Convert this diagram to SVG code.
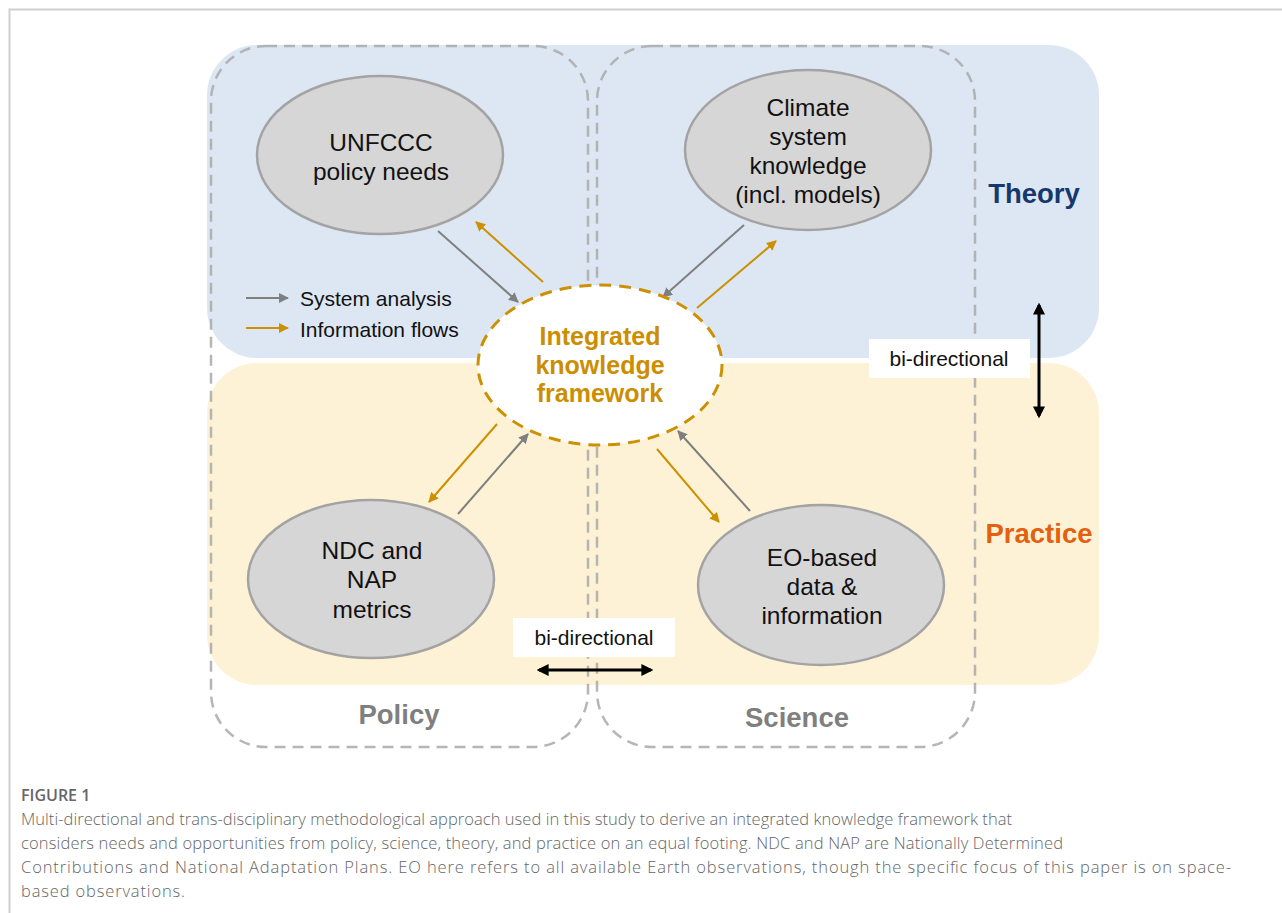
<svg xmlns="http://www.w3.org/2000/svg" width="1282" height="913" viewBox="0 0 1282 913">
<defs>
<style>
.frame{fill:none;stroke:#cfcfcf;stroke-width:2}
.band-t{fill:#dde7f4}
.band-p{fill:#fef2d6}
.dbox{fill:none;stroke:#a9a9a9;stroke-width:2.5;stroke-dasharray:11 7;stroke-opacity:0.85}
.node{fill:#d6d6d6;stroke:#a3a3a3;stroke-width:2.5}
.ntxt{font-family:"Liberation Sans",Arial,sans-serif;font-size:24.5px;fill:#111;text-anchor:middle}
.ikf{fill:#fff;stroke:#cc9000;stroke-width:3;stroke-dasharray:12 8}
.iktxt{font-family:"Liberation Sans",Arial,sans-serif;font-size:25px;font-weight:bold;fill:#cc8e00;text-anchor:middle}
.lbl{font-family:"Liberation Sans",Arial,sans-serif;font-size:27.5px;font-weight:bold;text-anchor:middle}
.small{font-family:"Liberation Sans",Arial,sans-serif;font-size:21px;fill:#111}
.gray{stroke:#7f7f7f;stroke-width:2;fill:none}
.orng{stroke:#cc9000;stroke-width:2;fill:none}
.blk{stroke:#000;stroke-width:3;fill:none}
.cap{font-family:"Open Sans",sans-serif;font-size:16.5px;fill:#666;font-weight:300}
.fig{font-family:"Open Sans",sans-serif;font-size:16px;fill:#666;font-weight:600}
</style>
<marker id="ag" viewBox="0 0 10 10" refX="9" refY="5" markerWidth="5" markerHeight="5" orient="auto-start-reverse"><path d="M0,0 L10,5 L0,10 Z" fill="#7f7f7f"/></marker>
<marker id="ao" viewBox="0 0 10 10" refX="9" refY="5" markerWidth="5" markerHeight="5" orient="auto-start-reverse"><path d="M0,0 L10,5 L0,10 Z" fill="#cc9000"/></marker>
<marker id="ab" viewBox="0 0 10 10" refX="8" refY="5" markerWidth="4" markerHeight="4" orient="auto-start-reverse"><path d="M0,0 L10,5 L0,10 Z" fill="#000"/></marker>
</defs>
<rect width="1282" height="913" fill="#fff"/>
<path class="frame" d="M9.5,913 V9.5 H1282"/>

<g id="bands">
<rect class="band-t" x="207" y="45" width="892" height="313" rx="50"/>
<rect class="band-p" x="207" y="363" width="892" height="322" rx="50"/>
</g>
<g id="policy-box"><rect class="dbox" x="211" y="46" width="377" height="701" rx="55"/></g>
<g id="science-box"><rect class="dbox" x="597" y="46" width="378" height="701" rx="55"/></g>

<g id="connectors">
<line class="gray" x1="438" y1="231" x2="518" y2="302" marker-end="url(#ag)"/>
<line class="orng" x1="543" y1="282" x2="476" y2="222" marker-end="url(#ao)"/>
<line class="gray" x1="744" y1="225" x2="663" y2="297" marker-end="url(#ag)"/>
<line class="orng" x1="697" y1="308" x2="776" y2="241" marker-end="url(#ao)"/>
<line class="orng" x1="497" y1="424" x2="429" y2="502" marker-end="url(#ao)"/>
<line class="gray" x1="458" y1="514" x2="528" y2="434" marker-end="url(#ag)"/>
<line class="orng" x1="657" y1="449" x2="719" y2="522" marker-end="url(#ao)"/>
<line class="gray" x1="750" y1="511" x2="678" y2="431" marker-end="url(#ag)"/>
<line class="blk" x1="1039" y1="305" x2="1039" y2="416" marker-start="url(#ab)" marker-end="url(#ab)"/>
<line class="blk" x1="539" y1="670" x2="651" y2="670" marker-start="url(#ab)" marker-end="url(#ab)"/>
</g>

<g id="legend">
<line class="gray" x1="246" y1="298" x2="288" y2="298" marker-end="url(#ag)"/>
<text class="small" x="300" y="306">System analysis</text>
<line class="orng" x1="246" y1="328" x2="288" y2="328" marker-end="url(#ao)"/>
<text class="small" x="300" y="337">Information flows</text>
</g>

<g id="unfccc">
<ellipse class="node" cx="380" cy="155" rx="123" ry="79"/>
<text class="ntxt" x="381" y="151">UNFCCC</text>
<text class="ntxt" x="381" y="180">policy needs</text>
</g>
<g id="climate">
<ellipse class="node" cx="808" cy="150" rx="123" ry="80"/>
<text class="ntxt" x="808" y="116">Climate</text>
<text class="ntxt" x="808" y="145">system</text>
<text class="ntxt" x="808" y="174">knowledge</text>
<text class="ntxt" x="808" y="203">(incl. models)</text>
</g>
<g id="ndc">
<ellipse class="node" cx="371" cy="579" rx="123" ry="79"/>
<text class="ntxt" x="372" y="559">NDC and</text>
<text class="ntxt" x="372" y="588">NAP</text>
<text class="ntxt" x="372" y="618">metrics</text>
</g>
<g id="eo">
<ellipse class="node" cx="821" cy="585" rx="123" ry="80"/>
<text class="ntxt" x="822" y="566">EO-based</text>
<text class="ntxt" x="822" y="595">data &amp;</text>
<text class="ntxt" x="822" y="624">information</text>
</g>
<g id="integrated">
<ellipse class="ikf" cx="600" cy="365" rx="122" ry="80"/>
<text class="iktxt" x="600" y="345">Integrated</text>
<text class="iktxt" x="600" y="374">knowledge</text>
<text class="iktxt" x="600" y="402">framework</text>
</g>

<g id="bidir-right">
<rect x="869" y="339" width="161" height="39" fill="#fff"/>
<text class="small" x="949" y="366" text-anchor="middle">bi-directional</text>
</g>
<g id="bidir-bottom">
<rect x="513" y="618" width="162" height="39" fill="#fff"/>
<text class="small" x="594" y="645" text-anchor="middle">bi-directional</text>
</g>

<g id="labels">
<text class="lbl" x="1034" y="203" fill="#17386b">Theory</text>
<text class="lbl" x="1039" y="543" fill="#e2600f">Practice</text>
<text class="lbl" x="399" y="724" fill="#7f7f7f">Policy</text>
<text class="lbl" x="797" y="727" fill="#7f7f7f">Science</text>
</g>

<g id="caption">
<text class="fig" x="21" y="801">FIGURE 1</text>
<text class="cap" x="21" y="825" textLength="991" lengthAdjust="spacing">Multi-directional and trans-disciplinary methodological approach used in this study to derive an integrated knowledge framework that</text>
<text class="cap" x="21" y="849" textLength="1042" lengthAdjust="spacing">considers needs and opportunities from policy, science, theory, and practice on an equal footing. NDC and NAP are Nationally Determined</text>
<text class="cap" x="21" y="873" textLength="1210" lengthAdjust="spacing">Contributions and National Adaptation Plans. EO here refers to all available Earth observations, though the specific focus of this paper is on space-</text>
<text class="cap" x="21" y="897" textLength="164" lengthAdjust="spacing">based observations.</text>
</g>
</svg>
